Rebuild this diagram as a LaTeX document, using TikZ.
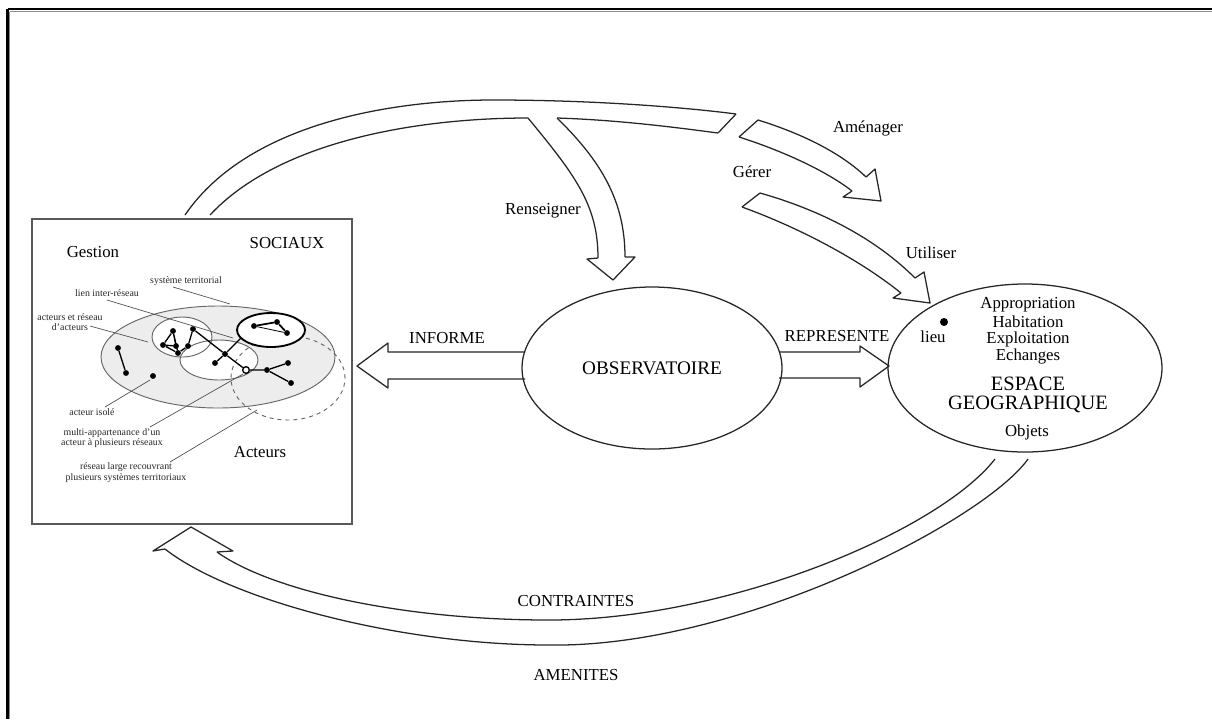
\documentclass[tikz,border=0pt]{standalone}
\usepackage{fontspec}
\setmainfont{Liberation Serif}
\usetikzlibrary{shapes.geometric}
\begin{document}
\begin{tikzpicture}[x=0.75pt,y=-0.75pt,
  edge/.style={line width=0.95pt, draw=black!85, line join=round},
  lbl/.style={font=\fontsize{12.6}{14}\selectfont, inner sep=0},
  big/.style={font=\fontsize{15.3}{17}\selectfont, inner sep=0},
  small/.style={font=\fontsize{7.4}{7.8}\selectfont, inner sep=0, align=center, text=black!85},
  leader/.style={line width=0.5pt, draw=black!70},
  dot/.style={circle, fill=black, inner sep=0, minimum size=4.4pt},
  net/.style={line width=1pt, draw=black},
  zone/.style={draw=black!60, line width=0.7pt},
]
\useasboundingbox (0,0) rectangle (1212,719);
% outer frame (top and left)
\draw[black!45, line width=0.8pt] (9.5,11.5) -- (1212,11.5);
\draw[black!45, line width=0.8pt] (9.5,11.5) -- (9.5,719);
\draw[black, line width=1.6pt] (7.5,9.3) -- (1212,9.3);
\draw[black, line width=1.6pt] (7.5,9.3) -- (7.5,719);

% ---------- left box ----------
\node[draw=black!65, line width=1pt, minimum width=240pt, minimum height=228.75pt, inner sep=0] (box) at (192,371.5) {};
\node[lbl] (gestion) at (93,252) {Gestion};
\node[lbl] (sociaux) at (287,243) {SOCIAUX};
\node[lbl] (acteurs) at (260,452) {Acteurs};

% territorial system
\node[ellipse, zone, fill=black!7, minimum width=175.5pt, minimum height=76.5pt, inner sep=0] (terr) at (218,357) {};
\node[ellipse, fill=white, minimum width=45pt, minimum height=30pt, inner sep=0] (netlf) at (182,337) {};
\node[ellipse, zone, fill=white, minimum width=58.5pt, minimum height=30pt, inner sep=0] (netm) at (219,360) {};
\node[ellipse, zone, minimum width=45pt, minimum height=30pt, inner sep=0] (netl) at (182,337) {};
\node[ellipse, draw=black!60, dashed, line width=0.7pt, minimum width=85.5pt, minimum height=63pt, inner sep=0] (large) at (288,378) {};
\node[ellipse, draw=black, fill=white, line width=1.4pt, minimum width=51pt, minimum height=25.5pt, inner sep=0] (netb) at (271,330) {};

% actors
\node[dot] (a1) at (118,348) {};
\node[dot] (a2) at (126,373) {};
\node[dot] (iso) at (153,376) {};
\node[dot] (A) at (173,331) {};
\node[dot] (B) at (163,345) {};
\node[dot] (C) at (176,346) {};
\node[dot] (D) at (178,353) {};
\node[dot] (E) at (188,346) {};
\node[dot] (F) at (193,329) {};
\node[dot] (M) at (225,354) {};
\node[dot] (G) at (215,363) {};
\coordinate (Mb) at (241,338);
\node[circle, draw=black, fill=white, line width=1pt, inner sep=0, minimum size=5pt] (O) at (246,370) {};
\node[dot] (R1) at (267,370) {};
\node[dot] (R2) at (288,363) {};
\node[dot] (R3) at (291,383) {};
\node[dot] (K1) at (254,326) {};
\node[dot] (K2) at (277,322) {};
\node[dot] (K3) at (287,333) {};
\draw[net] (a1) -- (a2);
\draw[net] (A) -- (B) (A) -- (C) (A) -- (D) (B) -- (C) (B) -- (D) (D) -- (E) (E) -- (F);
\draw[net] (F) -- (M) (M) -- (G) (M) -- (O) (M) -- (Mb);
\draw[net] (O) -- (R1) (R1) -- (R2) (R1) -- (R3);
\draw[net, line width=1.3pt] (K1) -- (K2) -- (K3);
\draw[line width=0.6pt] (K1) -- (K3);

% annotations
\node[small] (tsys) at (186,281) {système territorial};
\node[small] (tlien) at (107,293) {lien inter-réseau};
\node[small] (tact) at (70,322) {acteurs et réseau\\d'acteurs};
\node[small] (tiso) at (92,412) {acteur isolé};
\node[small] (tmulti) at (112,438) {multi-appartenance d'un\\acteur à plusieurs réseaux};
\node[small] (tlarge) at (126,472.5) {réseau large recouvrant\\plusieurs systèmes territoriaux};
\coordinate (ltsys) at (230,304);
\coordinate (ltlien) at (233,338);
\coordinate (ltact) at (148,342);
\coordinate (ltiso) at (150,380);
\coordinate (ltmulti) at (243,374);
\coordinate (ltlarge) at (257,410);
\draw[leader] (173,287) -- (ltsys);
\draw[leader] (107,300) -- (ltlien);
\draw[leader] (90,326) -- (ltact);
\draw[leader] (105,407) -- (ltiso);
\draw[leader] (150,427) -- (ltmulti);
\draw[leader] (170,462) -- (ltlarge);

% ---------- observatoire ----------
\node[ellipse, draw=black!85, line width=0.95pt, minimum width=195pt, minimum height=121.5pt, inner sep=0, font=\fontsize{14.4}{16}\selectfont] (obs) at (652,368) {OBSERVATOIRE};

% ---------- espace geographique ----------
\node[ellipse, draw=black!85, line width=0.95pt, minimum width=205.5pt, minimum height=126pt, inner sep=0] (esp) at (1025,368) {};
\node[lbl] (appr) at (1028,305) {Appropriation};
\node[lbl] (habi) at (1028,322) {Habitation};
\node[lbl] (expl) at (1028,339) {Exploitation};
\node[lbl] (echa) at (1028,356) {Echanges};
\node[big] (espace) at (1028,384) {ESPACE};
\node[big] (geo) at (1028,404) {GEOGRAPHIQUE};
\node[lbl] (objets) at (1027,432) {Objets};
\node[dot, minimum size=6pt] (lieudot) at (944,322) {};
\node[lbl] (lieu) at (933,337) {lieu};

% ---------- INFORME arrow ----------
\draw[edge] (525,352) -- (388,352) -- (388,343) -- (357,366) -- (388,388) -- (388,379) -- (525,379);
\node[lbl] (informe) at (447,338) {INFORME};

% ---------- REPRESENTE arrow ----------
\draw[edge] (779,352) -- (860,352) -- (860,346) -- (889,366) -- (860,387) -- (860,378) -- (779,378);
\node[lbl] (represente) at (837,336) {REPRESENTE};

% ---------- top arrow (from box) with Renseigner branch ----------
\draw[edge] (185,215) .. controls (250,120) and (400,100) .. (493,100) .. controls (600,100) and (690,108) .. (736,114);
\draw[edge] (210,215) .. controls (280,140) and (420,118) .. (528,118);
\draw[edge] (528,118) .. controls (575,175) and (598,205) .. (598,258);
\draw[edge] (598,258) -- (587,259) -- (613,280) -- (635,257) -- (625,257);
\draw[edge] (625,257) .. controls (625,200) and (600,160) .. (557,118);
\draw[edge] (557,118) .. controls (620,120) and (680,128) .. (718,133);
\draw[edge] (718,133) -- (736,114);
\node[lbl] (renseigner) at (543,211) {Renseigner};

% ---------- Amenager arrow ----------
\draw[edge] (758,120) -- (739,137);
\draw[edge] (758,120) .. controls (800,133) and (840,152) .. (866,177);
\draw[edge] (739,137) .. controls (780,150) and (825,170) .. (852,191);
\draw[edge] (866,177) -- (875,169) -- (881,201) -- (843,197) -- (852,191);
\node[lbl] (amenager) at (868,128) {Aménager};

% ---------- Gerer / Utiliser arrow ----------
\draw[edge] (760,193) -- (742,207);
\draw[edge] (760,193) .. controls (820,210) and (875,238) .. (915,278);
\draw[edge] (742,207) .. controls (800,228) and (860,260) .. (901,293);
\draw[edge] (915,278) -- (924,272) -- (930,303) -- (893,298) -- (901,293);
\node[lbl] (gerer) at (752,172) {Gérer};
\node[lbl] (utiliser) at (931,253) {Utiliser};

% ---------- bottom arrow (to box) ----------
\draw[edge] (1028,459) .. controls (985,520) and (740,648) .. (549,645) .. controls (400,645) and (230,600) .. (165,549);
\draw[edge] (995,459) .. controls (940,530) and (730,620) .. (549,620) .. controls (400,620) and (270,590) .. (217,552);
\draw[edge] (165,549) -- (153,551) -- (191,527) -- (233,551) -- (217,552);
\node[lbl] (contraintes) at (576,601) {CONTRAINTES};
\node[lbl] (amenites) at (576,675) {AMENITES};
\end{tikzpicture}
\end{document}
